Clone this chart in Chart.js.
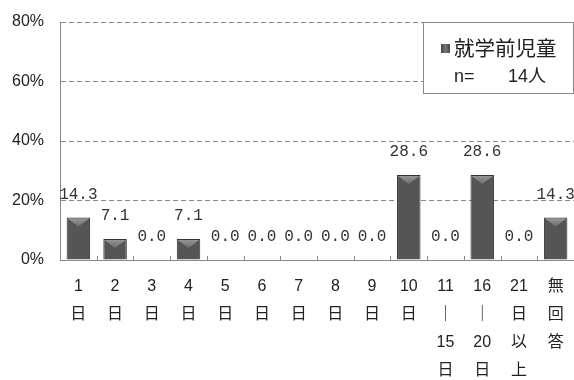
<!DOCTYPE html>
<html><head><meta charset="utf-8">
<script src="https://cdn.jsdelivr.net/npm/chart.js@4/dist/chart.umd.min.js"></script>
<style>html,body{margin:0;padding:0;background:#fff}#wrap{width:574px;height:380px}</style>
</head><body><div id="wrap"><canvas id="c" width="574" height="380"></canvas></div>
<script>
const categories = [["1","日"],["2","日"],["3","日"],["4","日"],["5","日"],["6","日"],["7","日"],["8","日"],["9","日"],["10","日"],["11","｜","15","日"],["16","｜","20","日"],["21","日","以","上"],["無","回","答"]];
const values = [14.3, 7.1, 0.0, 7.1, 0.0, 0.0, 0.0, 0.0, 0.0, 28.6, 0.0, 28.6, 0.0, 14.3];
const yTicks = [0, 20, 40, 60, 80];
const seriesName = "就学前児童";
const nLabel = ["n=", "14人"];

const decor = {
  id: 'decor',
  afterDatasetsDraw(chart) {
    const ctx = chart.ctx;
    const meta = chart.getDatasetMeta(0);
    const ca = chart.chartArea;
    // y axis line (solid)
    ctx.save(); ctx.strokeStyle = '#888'; ctx.lineWidth = 1;
    const ax = Math.round(ca.left) + 0.5;
    ctx.beginPath(); ctx.moveTo(ax, ca.top); ctx.lineTo(ax, ca.bottom); ctx.stroke();
    ctx.restore();
    // bevel triangles on bars
    meta.data.forEach((bar, i) => {
      const w = bar.width, left = bar.x - w / 2, top = bar.y;
      if (values[i] > 0) {
        const h = Math.min(9, bar.base - top);
        const g = ctx.createLinearGradient(0, top, 0, top + h);
        g.addColorStop(0, '#9a9a9a'); g.addColorStop(1, '#6e6e6e');
        ctx.save(); ctx.fillStyle = g;
        ctx.beginPath(); ctx.moveTo(left + 1, top + 1); ctx.lineTo(left + w - 1, top + 1);
        ctx.lineTo(bar.x, top + h); ctx.closePath(); ctx.fill(); ctx.restore();
      }
    });
    // data labels
    ctx.save();
    ctx.fillStyle = '#333'; ctx.font = '16px "Liberation Mono", monospace';
    ctx.textAlign = 'center'; ctx.textBaseline = 'middle';
    meta.data.forEach((bar, i) => { ctx.fillText(values[i].toFixed(1), bar.x, bar.y - 23); });
    ctx.restore();
    // x-axis tick marks (upward, at category boundaries)
    const xs = chart.scales.x;
    ctx.save(); ctx.strokeStyle = '#888'; ctx.lineWidth = 1;
    for (let i = 1; i < categories.length; i++) {
      const x = Math.round((xs.getPixelForValue(i - 1) + xs.getPixelForValue(i)) / 2) + 0.5;
      ctx.beginPath(); ctx.moveTo(x, ca.bottom); ctx.lineTo(x, ca.bottom - 4); ctx.stroke();
    }
    ctx.restore();
    // legend box (anchored to plot top / right)
    const lx = 423.5, ly = Math.round(ca.top) + 0.5, lw = 150, lh = 71;
    ctx.save();
    ctx.fillStyle = '#fff'; ctx.fillRect(lx, ly, lw, lh);
    ctx.strokeStyle = '#888'; ctx.lineWidth = 1; ctx.strokeRect(lx, ly, lw, lh);
    const mg = ctx.createLinearGradient(441, 0, 450, 0);
    mg.addColorStop(0, '#444'); mg.addColorStop(0.5, '#777'); mg.addColorStop(1, '#444');
    ctx.fillStyle = mg; ctx.fillRect(441, ly + 21.5, 9, 9);
    ctx.fillStyle = '#222'; ctx.textBaseline = 'middle'; ctx.textAlign = 'left';
    ctx.font = '20.5px "Noto Sans CJK JP", sans-serif';
    ctx.fillText(seriesName, 454, ly + 25.5);
    ctx.font = '18px "Liberation Sans", "Noto Sans CJK JP", sans-serif';
    ctx.fillText(nLabel[0], 454, ly + 54.5);
    ctx.fillText(nLabel[1], 508, ly + 54.5);
    ctx.restore();
  }
};

new Chart(document.getElementById('c'), {
  type: 'bar',
  data: {
    labels: categories,
    datasets: [{
      label: seriesName,
      data: values,
      backgroundColor: (c) => {
        const ch = c.chart; const el = c.element;
        if (!el || !isFinite(el.x)) return '#555';
        const w = el.width || 23;
        const g = ch.ctx.createLinearGradient(el.x - w / 2, 0, el.x + w / 2, 0);
        g.addColorStop(0, '#3c3c3c'); g.addColorStop(0.45, '#5e5e5e'); g.addColorStop(1, '#3a3a3a');
        return g;
      },
      borderColor: '#333',
      borderWidth: 1,
      categoryPercentage: 1.0,
      barPercentage: 0.64
    }]
  },
  options: {
    responsive: false,
    animation: false,
    layout: { padding: { top: 22, right: 0, left: 0, bottom: 0 } },
    plugins: { legend: { display: false }, tooltip: { enabled: false } },
    scales: {
      x: {
        afterFit(s) { s.height = 120; s.paddingLeft = 0; s.paddingRight = 0; },
        grid: { display: false, drawTicks: false },
        border: { display: true, color: '#888', width: 1 },
        ticks: {
          color: '#222', padding: 13, maxRotation: 0, autoSkip: false,
          font: { family: '"Liberation Sans", "Noto Sans CJK JP", sans-serif', size: 16, lineHeight: 1.75 }
        }
      },
      y: {
        min: 0, max: 80,
        afterFit(s) { s.width = 60; s.paddingTop = 0; s.paddingBottom = 0; },
        afterBuildTicks(s) { s.ticks = yTicks.map(v => ({ value: v })); },
        grid: { color: (c) => c.tick.value === 0 ? 'rgba(0,0,0,0)' : '#888', drawTicks: false },
        border: { display: true, color: 'rgba(0,0,0,0)', width: 1, dash: [5, 3] },
        ticks: {
          color: '#222', padding: 16,
          font: { family: '"Liberation Sans", sans-serif', size: 16 },
          callback: (v) => v + '%'
        }
      }
    }
  },
  plugins: [decor]
});
</script></body></html>
